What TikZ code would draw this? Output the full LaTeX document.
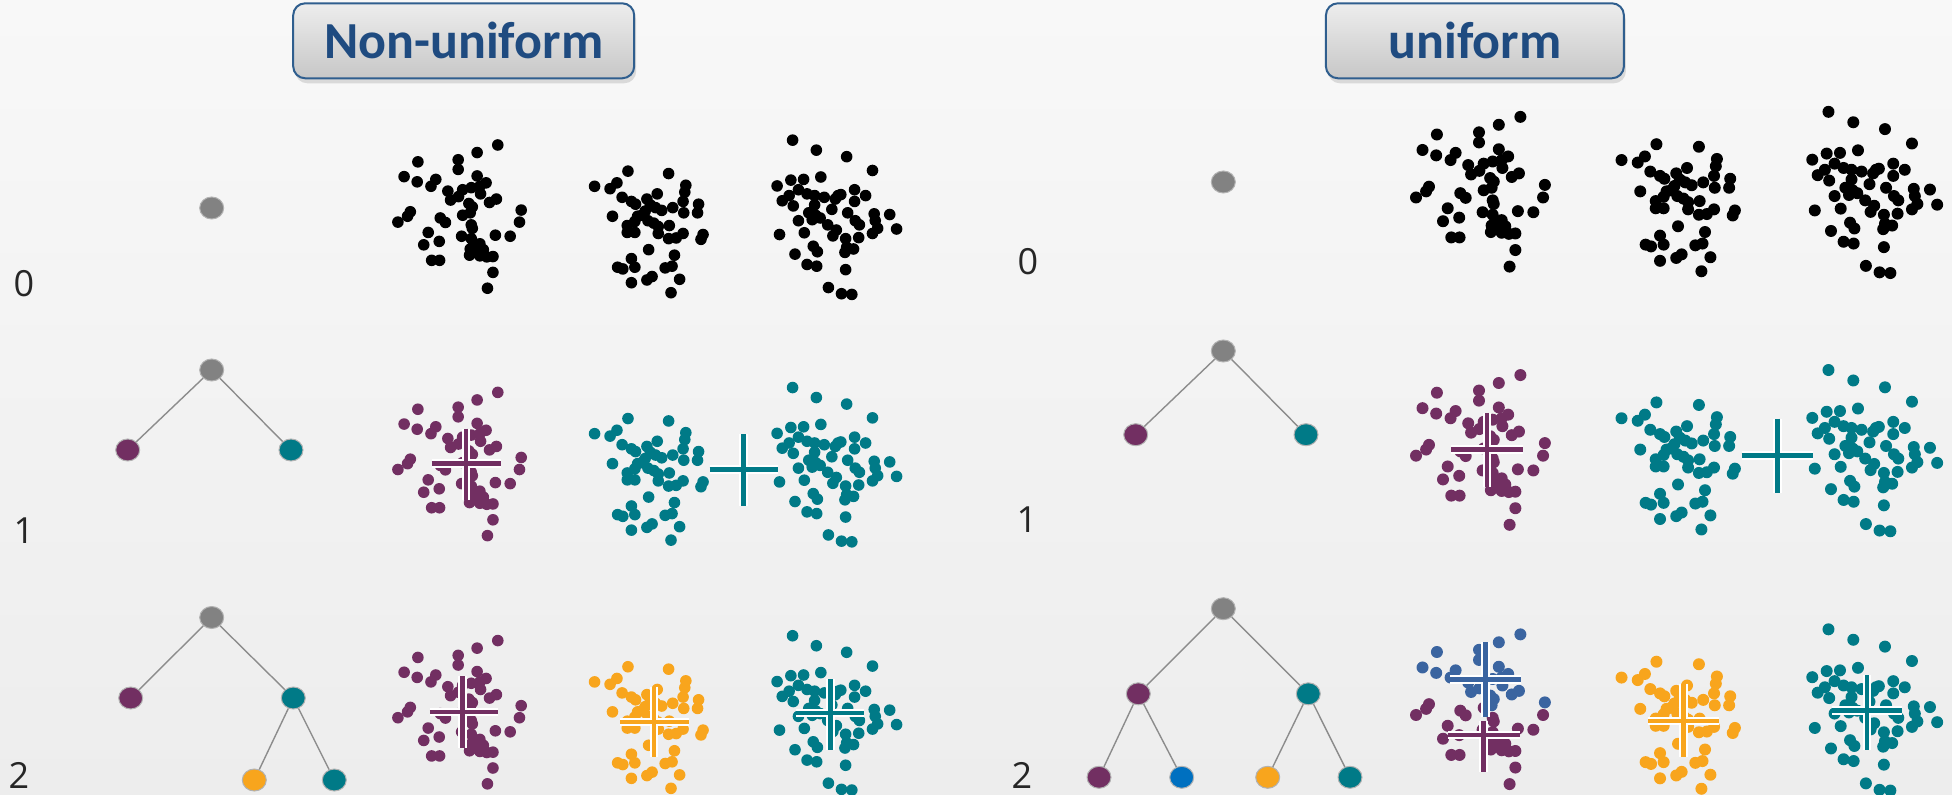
\documentclass[tikz,border=0pt]{standalone}
\usepackage{fontspec}
\setmainfont{Carlito}
\newfontfamily\labelfont{Open Sans}
\usetikzlibrary{shapes.geometric,shadows}
\definecolor{cpurple}{HTML}{722F62}
\definecolor{cteal}{HTML}{007A87}
\definecolor{corange}{HTML}{F8A51D}
\definecolor{cblue}{HTML}{3A64A0}
\definecolor{nblue}{HTML}{0070C0}
\definecolor{ngray}{HTML}{828282}
\definecolor{titleblue}{HTML}{1F4B80}
\definecolor{boxborder}{HTML}{2F5E8E}
\definecolor{bgtop}{HTML}{F8F8F8}
\definecolor{bgbot}{HTML}{EDEDED}

% clouds, in a common frame
\def\cloudAtop{342/58,282/80,110/107,227/101,227/129,70/150,108/165,148/178,162/158,282/148,308/168,197/192,240/188,265/182,290/178,292/200,205/218,228/208,258/228,268/238,318/225,338/215,410/247,262/255}
\def\cloudAbot{88/252,80/265,52/282,175/270,190/283,240/262,265/290,268/300,405/282,140/312,172/338,127/348,237/323,335/320,378/323,265/330,290/345,262/360,278/370,300/362,260/378,290/380,310/383,328/382,150/393,173/393,328/428,312/474,272/348,285/355}
\def\cloudB{720/134,838/141,623/178,668/185,688/168,888/175,885/195,703/210,730/222,742/230,805/200,775/215,785/232,800/240,818/248,850/240,880/222,925/230,922/255,882/255,675/265,748/265,740/280,778/278,795/285,808/295,718/292,718/312,740/312,840/292,808/315,838/330,860/328,880/315,938/318,932/332,780/362,855/378,730/388,690/413,705/418,740/413,828/415,848/410,730/458,775/450,790/440,870/448,845/487,770/250,760/262}
\def\cloudC{1198/44,1267/73,1355/92,1430/132,1280/151,1153/177,1193/160,1230/158,1215/188,1188/205,1168/220,1200/235,1240/200,1262/205,1290/210,1330/205,1338/202,1322/215,1378/188,1410/205,1378/222,1262/232,1245/255,1265/262,1255/275,1278/270,1312/245,1358/255,1215/278,1300/290,1232/313,1325/305,1315/322,1380/278,1392/290,1435/258,1438/278,1445/300,1430/315,1480/260,1500/302,1390/327,1352/330,1160/318,1258/352,1270/368,1350/370,1355/355,1375/360,1205/375,1240/405,1268/410,1352/420,1302/472,1340/490,1370/492}

\newcommand\drawpts[3]{\foreach \px/\py in #1 {\fill[#2] (\px,\py) circle[radius=#3];}}
\newcommand\crossmk[7]{%
  \draw[white,line width=4.2pt] (#2,#4)--(#3,#4) (#5,#6)--(#5,#7);
  \draw[#1,line width=2.2pt] (#2,#4)--(#3,#4) (#5,#6)--(#5,#7);}

\tikzset{
  treenode/.style={ellipse,minimum width=12pt,minimum height=11pt,inner sep=0pt,draw=black!30,line width=0.5pt},
  edge/.style={draw=black!45,line width=0.7pt},
  rowlab/.style={font=\labelfont\fontsize{18}{18}\selectfont,text=black!85,inner sep=0pt},
  titlebox/.style={rounded corners=6pt,draw=boxborder,line width=1pt,top color=white!93!black,bottom color=white!78!black,
    minimum height=37.5pt,text=titleblue,font=\bfseries\fontsize{26}{26}\selectfont,
    drop shadow={opacity=0.25,shadow xshift=1pt,shadow yshift=-2.5pt}}
}

\begin{document}
\begin{tikzpicture}[x=0.5pt,y=-0.5pt]
\useasboundingbox (0,0) rectangle (1952,795);
\shade[top color=bgtop,bottom color=bgbot] (0,0) rectangle (1952,795);

% titles
\node[titlebox,minimum width=170.5pt] (tnon) at (463.7,40.8) {Non-uniform};
\node[titlebox,minimum width=149pt] (tuni) at (1474.9,40.8) {uniform};

% row labels
\node[rowlab] (ln0) at (24,284) {0};
\node[rowlab] (ln1) at (24,531) {1};
\node[rowlab] (ln2) at (19,775) {2};
\node[rowlab] (lu0) at (1028,262) {0};
\node[rowlab] (lu1) at (1027,520) {1};
\node[rowlab] (lu2) at (1022,775) {2};

% left trees
\node[treenode,fill=ngray] (a0) at (211.7,208) {};
\node[treenode,fill=ngray] (a1) at (211.7,370) {};
\node[treenode,fill=cpurple] (a1l) at (127.7,450) {};
\node[treenode,fill=cteal] (a1r) at (291,450) {};
\draw[edge] (a1) -- (a1l) (a1) -- (a1r);
\node[treenode,fill=ngray] (a2) at (211.7,617.5) {};
\node[treenode,fill=cpurple] (a2l) at (130.7,698) {};
\node[treenode,fill=cteal] (a2r) at (293.3,698) {};
\node[treenode,fill=corange] (a2rl) at (254.3,780) {};
\node[treenode,fill=cteal] (a2rr) at (334.3,780) {};
\draw[edge] (a2) -- (a2l) (a2) -- (a2r) (a2r) -- (a2rl) (a2r) -- (a2rr);

% right trees
\node[treenode,fill=ngray] (b0) at (1223.3,182) {};
\node[treenode,fill=ngray] (b1) at (1223.3,351) {};
\node[treenode,fill=cpurple] (b1l) at (1135.7,434.7) {};
\node[treenode,fill=cteal] (b1r) at (1306,434.7) {};
\draw[edge] (b1) -- (b1l) (b1) -- (b1r);
\node[treenode,fill=ngray] (b2) at (1223.3,608.7) {};
\node[treenode,fill=cpurple] (b2l) at (1138.3,693.8) {};
\node[treenode,fill=cteal] (b2r) at (1308.3,693.8) {};
\node[treenode,fill=cpurple] (b2ll) at (1099,777.3) {};
\node[treenode,fill=nblue] (b2lr) at (1181.7,777.3) {};
\node[treenode,fill=corange] (b2rl) at (1267.7,777.3) {};
\node[treenode,fill=cteal] (b2rr) at (1350,777.3) {};
\draw[edge] (b2) -- (b2l) (b2) -- (b2r) (b2l) -- (b2ll) (b2l) -- (b2lr) (b2r) -- (b2rl) (b2r) -- (b2rr);

% ---------- non-uniform clouds ----------
\begin{scope}[shift={(380,125)},x=0.17219pt,y=-0.17219pt]
  \drawpts{\cloudAtop}{black}{2.9pt}\drawpts{\cloudAbot}{black}{2.9pt}
  \drawpts{\cloudB}{black}{2.9pt}\drawpts{\cloudC}{black}{2.9pt}
\end{scope}
\begin{scope}[shift={(380,372.4)},x=0.17219pt,y=-0.17219pt]
  \drawpts{\cloudAtop}{cpurple}{2.9pt}\drawpts{\cloudAbot}{cpurple}{2.9pt}
  \drawpts{\cloudB}{cteal}{2.9pt}\drawpts{\cloudC}{cteal}{2.9pt}
  \crossmk{cpurple}{150}{350}{265}{250}{163}{370}
  \crossmk{cteal}{957}{1156}{282}{1056}{179}{387}
\end{scope}
\begin{scope}[shift={(380,620.6)},x=0.17219pt,y=-0.17219pt]
  \drawpts{\cloudAtop}{cpurple}{2.9pt}\drawpts{\cloudAbot}{cpurple}{2.9pt}
  \drawpts{\cloudB}{corange}{2.9pt}\drawpts{\cloudC}{cteal}{2.9pt}
  \crossmk{cpurple}{145}{343}{265}{240}{162}{370}
  \crossmk{corange}{697}{897}{295}{796}{192}{397}
  \crossmk{cteal}{1209}{1405}{269}{1308}{170}{375}
\end{scope}

% ---------- uniform clouds ----------
\begin{scope}[shift={(1397.3,96)},x=0.17995pt,y=-0.17995pt]
  \drawpts{\cloudAtop}{black}{3pt}\drawpts{\cloudAbot}{black}{3pt}
  \drawpts{\cloudB}{black}{3pt}\drawpts{\cloudC}{black}{3pt}
\end{scope}
\begin{scope}[shift={(1397.3,354.2)},x=0.17995pt,y=-0.17995pt]
  \drawpts{\cloudAtop}{cpurple}{3pt}\drawpts{\cloudAbot}{cpurple}{3pt}
  \drawpts{\cloudB}{cteal}{3pt}\drawpts{\cloudC}{cteal}{3pt}
  \crossmk{cpurple}{150}{350}{265}{250}{163}{370}
  \crossmk{cteal}{957}{1156}{282}{1056}{179}{387}
\end{scope}
\begin{scope}[shift={(1397.3,613.5)},x=0.17995pt,y=-0.17995pt]
  \drawpts{\cloudAtop}{cblue}{3pt}\drawpts{\cloudAbot}{cpurple}{3pt}
  \drawpts{\cloudB}{corange}{3pt}\drawpts{\cloudC}{cteal}{3pt}
  \crossmk{cblue}{146}{345}{183}{245}{80}{288}
  \crossmk{cpurple}{142}{342}{337}{240}{298}{441}
  \crossmk{corange}{697}{895}{298}{795}{195}{400}
  \crossmk{cteal}{1207}{1401}{270}{1305}{172}{378}
\end{scope}
\end{tikzpicture}
\end{document}
